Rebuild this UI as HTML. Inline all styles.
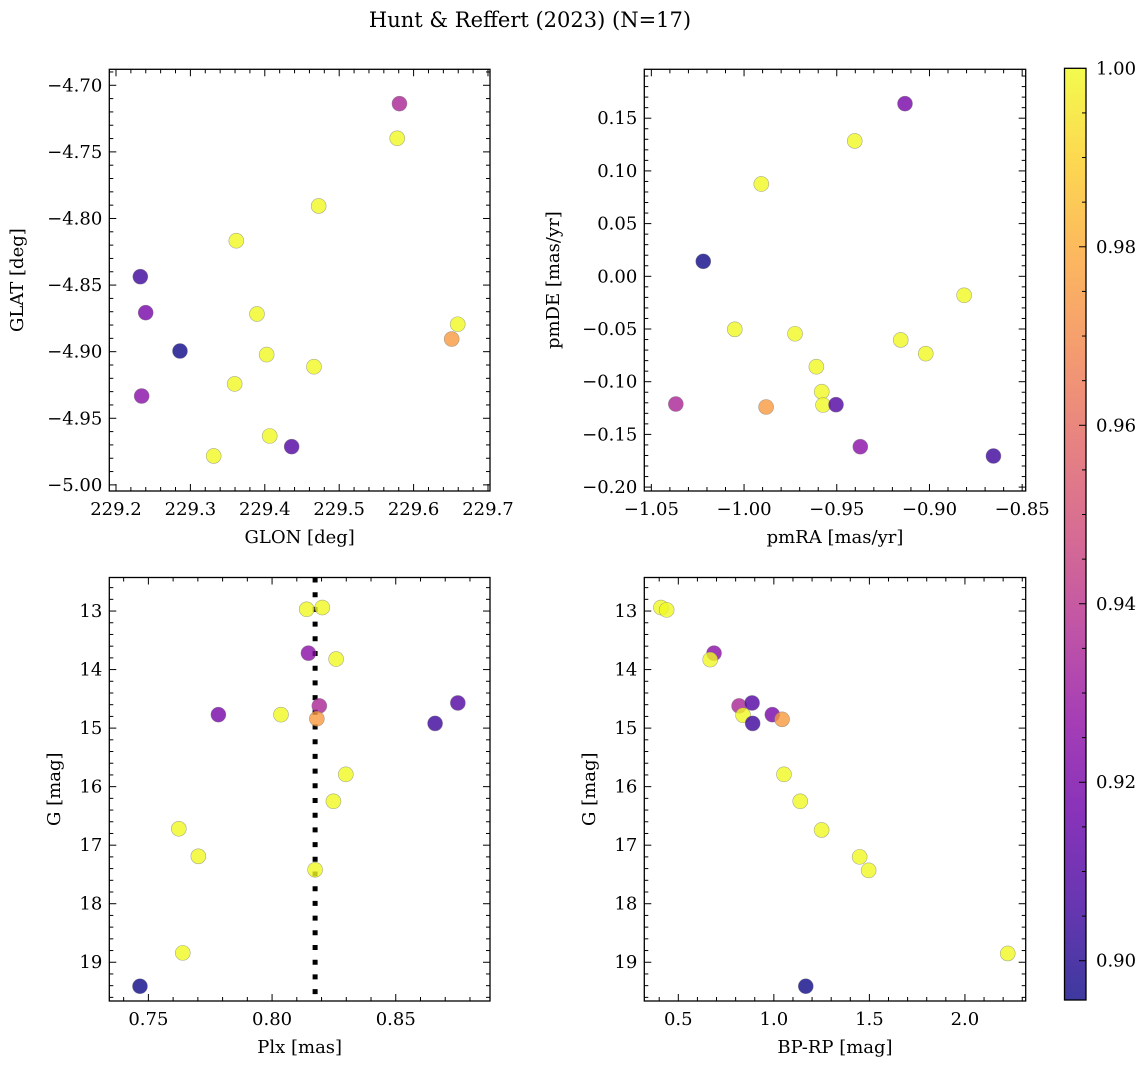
<!DOCTYPE html>
<html><head><meta charset="utf-8">
<style>
html,body{margin:0;padding:0;background:#fff;}
svg{display:block;font-family:"DejaVu Serif","Liberation Serif",serif;}
</style></head>
<body>
<svg id="fig" width="1148" height="1068" viewBox="0 0 1148 1068" xmlns="http://www.w3.org/2000/svg">
<defs>
<linearGradient id="plasma" x1="0" y1="1" x2="0" y2="0">
<stop offset="0" stop-color="#0d0887"/><stop offset="0.1" stop-color="#41049d"/><stop offset="0.2" stop-color="#6a00a8"/><stop offset="0.3" stop-color="#8f0da4"/><stop offset="0.4" stop-color="#b12a90"/><stop offset="0.5" stop-color="#cc4778"/><stop offset="0.6" stop-color="#e16462"/><stop offset="0.7" stop-color="#f2844b"/><stop offset="0.8" stop-color="#fca636"/><stop offset="0.9" stop-color="#fcce25"/><stop offset="1" stop-color="#f0f921"/>
</linearGradient>
</defs>
<text id="title" x="530" y="27" font-size="21" text-anchor="middle">Hunt &amp; Reffert (2023) (N=17)</text>
</svg>
<script>
// ---- data ----
const VMIN = 0.8956, VMAX = 1.0;
// GLON / GLAT panel
const glon = [229.581,229.578,229.4724,229.3617,229.2327,229.2399,229.3895,229.6593,229.6512,229.286,229.4025,229.4661,229.3595,229.2345,229.4066,229.4361,229.3313];
const glat = [-4.7138,-4.7398,-4.7906,-4.8167,-4.8437,-4.8707,-4.8717,-4.8794,-4.8905,-4.8995,-4.9022,-4.9113,-4.9242,-4.9333,-4.9633,-4.9713,-4.9783];
const probPos = [0.935,1,1,1,0.905,0.92,1,1,0.975,0.8956,1,1,1,0.925,1,0.91,1];
// proper motion panel
const pmra = [-1.0220,-0.9907,-0.9403,-0.9132,-1.0050,-0.9725,-0.9610,-0.9155,-0.9020,-0.8813,-1.0368,-0.9881,-0.9581,-0.9574,-0.9504,-0.9373,-0.8655];
const pmde = [0.0142,0.0876,0.1284,0.1638,-0.0503,-0.0545,-0.0858,-0.0604,-0.0734,-0.0180,-0.1212,-0.1240,-0.1095,-0.1221,-0.1218,-0.1617,-0.1705];
const probPm = [0.8956,1,1,0.92,1,1,1,1,1,1,0.935,0.975,1,1,0.91,0.925,0.905];
// parallax panel
const plx = [0.8140,0.8203,0.8147,0.8259,0.8191,0.7783,0.8036,0.8181,0.8659,0.8751,0.8298,0.8248,0.7623,0.7702,0.8174,0.7639,0.7466];
const gPlx = [12.97,12.94,13.72,13.82,14.62,14.77,14.77,14.84,14.92,14.57,15.79,16.25,16.72,17.19,17.42,18.84,19.41];
const probPlx = [1,1,0.925,1,0.935,0.92,1,0.975,0.905,0.91,1,1,1,1,1,1,0.8956];
const plxMean = 0.8174;
// CMD panel
const bprp = [0.409,0.439,0.687,0.667,0.818,0.886,0.839,0.889,0.992,1.043,1.053,1.138,1.250,1.449,1.496,2.224,1.167];
const gCmd = [12.94,12.98,13.72,13.83,14.62,14.57,14.78,14.92,14.77,14.85,15.79,16.25,16.74,17.20,17.43,18.85,19.41];
const probCmd = [1,1,0.925,1,0.935,0.91,1,0.905,0.92,0.975,1,1,1,1,1,1,0.8956];
// tick values
const ticksTLx = [229.2,229.3,229.4,229.5,229.6,229.7];
const ticksTLy = [-4.70,-4.75,-4.80,-4.85,-4.90,-4.95,-5.00];
const ticksTRx = [-1.05,-1.00,-0.95,-0.90,-0.85];
const ticksTRy = [0.15,0.10,0.05,0.00,-0.05,-0.10,-0.15,-0.20];
const ticksBLx = [0.75,0.80,0.85];
const ticksBRx = [0.5,1.0,1.5,2.0];
const ticksG = [13,14,15,16,17,18,19];
const ticksCbar = [0.90,0.92,0.94,0.96,0.98,1.00];

const FS = 18;
const NS = "http://www.w3.org/2000/svg";
const svg = document.getElementById('fig');
function mk(tag, attrs, parent){ const e=document.createElementNS(NS,tag); for(const k in attrs) e.setAttribute(k,attrs[k]); (parent||svg).appendChild(e); return e; }
const stops = ["#0d0887","#41049d","#6a00a8","#8f0da4","#b12a90","#cc4778","#e16462","#f2844b","#fca636","#fcce25","#f0f921"];
function hex(h){return [parseInt(h.substr(1,2),16),parseInt(h.substr(3,2),16),parseInt(h.substr(5,2),16)];}
function cmap(v){ let t=(v-VMIN)/(VMAX-VMIN); t=Math.max(0,Math.min(1,t)); const f=t*10, i=Math.min(9,Math.floor(f)), r=f-i; const a=hex(stops[i]), b=hex(stops[i+1]); return 'rgb('+a.map((c,k)=>Math.round(c+(b[k]-c)*r)).join(',')+')'; }
function fmt(v,d){ const s=Math.abs(v).toFixed(d); return (v< -1e-9?'\u2212':'')+s; }

function panel(cfg){
  const g = mk('g',{});
  
  
  const L=cfg.box[0], T=cfg.box[1], R=cfg.box[2], B=cfg.box[3];
  const sx = v => L + (v-cfg.x0)/(cfg.x1-cfg.x0)*(R-L);
  const sy = v => T + (v-cfg.y0)/(cfg.y1-cfg.y0)*(B-T);
  if(cfg.vline!==undefined){
    const ln = mk('line',{x1:sx(cfg.vline),x2:sx(cfg.vline),y1:T,y2:B,stroke:'#000','stroke-width':5,'stroke-dasharray':'5,9.7'},g);
    
    
  }
  for(let i=0;i<cfg.xs.length;i++){
    const c = mk('circle',{cx:sx(cfg.xs[i]),cy:sy(cfg.ys[i]),r:7.5,fill:cmap(cfg.ps[i]),'fill-opacity':0.8,stroke:'#777','stroke-opacity':0.6,'stroke-width':0.6},g);
    
    
  }
  const fr = mk('rect',{x:L,y:T,width:R-L,height:B-T,fill:'none',stroke:'#000','stroke-width':1.3},g);
  
  
  const xt=cfg.xt, dx=(xt[1]-xt[0])/5;
  for(let k=-5;k<(xt.length+5)*5;k++){
    const v=xt[0]+k*dx, px=sx(v);
    if(px<L+0.5||px>R-0.5) continue;
    const len = (k%5===0)?7:4;
    mk('line',{x1:px,x2:px,y1:B,y2:B-len,stroke:'#000','stroke-width':1},g);
    mk('line',{x1:px,x2:px,y1:T,y2:T+len,stroke:'#000','stroke-width':1},g);
  }
  xt.forEach(v=>{ const t=mk('text',{x:sx(v),y:B+24,'font-size':FS,'text-anchor':'middle'},g); t.textContent=fmt(v,cfg.xd);
      });
  const yt=cfg.yt, dy=(yt[1]-yt[0])/5;
  for(let k=-5;k<(yt.length+5)*5;k++){
    const v=yt[0]+k*dy, py=sy(v);
    if(py<T+0.5||py>B-0.5) continue;
    const len = (k%5===0)?7:4;
    mk('line',{x1:L,x2:L+len,y1:py,y2:py,stroke:'#000','stroke-width':1},g);
    mk('line',{x1:R,x2:R-len,y1:py,y2:py,stroke:'#000','stroke-width':1},g);
  }
  yt.forEach(v=>{ const t=mk('text',{x:L-7,y:sy(v)+6,'font-size':FS,'text-anchor':'end'},g); t.textContent=fmt(v,cfg.yd);
      });
  const xl=mk('text',{x:(L+R)/2,y:B+52,'font-size':FS,'text-anchor':'middle'},g); xl.textContent=cfg.xlabel;
   
  const yl=mk('text',{x:0,y:0,'font-size':FS,'text-anchor':'middle',transform:'translate('+cfg.ylx+','+((T+B)/2)+') rotate(-90)'},g); yl.textContent=cfg.ylabel;
   
}

panel({name:'glon-glat-panel',box:[109.3,69.3,490,491],x0:229.191,x1:229.7027,y0:-4.688,y1:-5.0046,
  xs:glon,ys:glat,ps:probPos,xt:ticksTLx,yt:ticksTLy,xd:1,yd:2,xlabel:'GLON [deg]',ylabel:'GLAT [deg]',ylx:23});
panel({name:'proper-motion-panel',box:[644.3,69.3,1025.7,491],x0:-1.0538,x1:-0.8481,y0:0.1964,y1:-0.2037,
  xs:pmra,ys:pmde,ps:probPm,xt:ticksTRx,yt:ticksTRy,xd:2,yd:2,xlabel:'pmRA [mas/yr]',ylabel:'pmDE [mas/yr]',ylx:559});
panel({name:'parallax-panel',box:[109.3,577.5,490,1001],x0:0.7342,x1:0.8881,y0:12.427,y1:19.662,
  xs:plx,ys:gPlx,ps:probPlx,xt:ticksBLx,yt:ticksG,xd:2,yd:0,xlabel:'Plx [mas]',ylabel:'G [mag]',ylx:60,vline:plxMean});
panel({name:'cmd-panel',box:[644.3,577.5,1025.7,1001],x0:0.322,x1:2.318,y0:12.427,y1:19.662,
  xs:bprp,ys:gCmd,ps:probCmd,xt:ticksBRx,yt:ticksG,xd:1,yd:0,xlabel:'BP-RP [mag]',ylabel:'G [mag]',ylx:595});

(function(){
  const g=mk('g',{});
  
  
  const L=1064.5,R=1086,T=68.3,B=1000;
  const sy=v=>B-(v-VMIN)/(VMAX-VMIN)*(B-T);
  mk('rect',{x:L,y:T,width:R-L,height:B-T,fill:'url(#plasma)','fill-opacity':0.8},g);
  mk('rect',{x:L,y:T,width:R-L,height:B-T,fill:'none',stroke:'#000','stroke-width':1.3},g);
  for(let k=0;k<=25;k++){
    const v=0.875+k*0.005, py=sy(v);
    if(py<T+0.5||py>B-0.5) continue;
    const major=(Math.round(v*1000)%20===0);
    mk('line',{x1:R,x2:R-(major?7:4),y1:py,y2:py,stroke:'#000','stroke-width':1},g);
  }
  ticksCbar.forEach(v=>{ const t=mk('text',{x:R+10,y:sy(v)+6,'font-size':FS},g); t.textContent=v.toFixed(2);
      });
})();
</script>
</body></html>
